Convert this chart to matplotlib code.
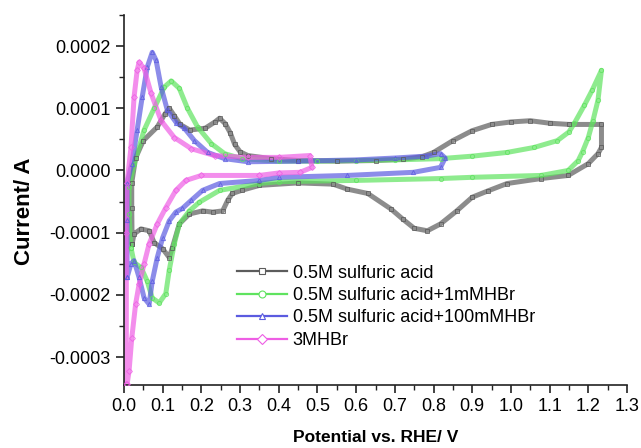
import matplotlib
matplotlib.use("Agg")
import matplotlib.pyplot as plt
from matplotlib.lines import Line2D
from matplotlib.ticker import MultipleLocator, FormatStrFormatter

plt.rcParams['font.family'] = ['Liberation Sans', 'DejaVu Sans']

labels = ["0.5M sulfuric acid", "0.5M sulfuric acid+1mMHBr",
          "0.5M sulfuric acid+100mMHBr", "3MHBr"]
colors = ["#5c5c5c", "#5fe35f", "#5b5be0", "#ee5ee4"]
markers = ["s", "o", "^", "D"]

# potential (V) and current (1e-4 A)
gray_x = [0.021, 0.02, 0.02, 0.03, 0.05, 0.086, 0.105, 0.117, 0.13, 0.145, 0.17, 0.21, 0.235, 0.247,
          0.262, 0.275, 0.286, 0.3, 0.32, 0.38, 0.45, 0.55, 0.65, 0.72, 0.77, 0.8, 0.85, 0.9,
          0.95, 1.0, 1.05, 1.1, 1.15, 1.234, 1.234, 1.225, 1.2, 1.148, 1.078, 0.99, 0.94,
          0.9, 0.86, 0.818, 0.784, 0.75, 0.72, 0.69, 0.63, 0.577, 0.54, 0.45, 0.35, 0.304,
          0.28, 0.268, 0.255, 0.229, 0.203, 0.169, 0.143, 0.125, 0.117, 0.1, 0.078, 0.065,
          0.044, 0.026, 0.021]
gray_y = [-1.18, -0.6, -0.2, 0.2, 0.48, 0.7, 0.9, 1.0, 0.88, 0.74, 0.65, 0.68, 0.78, 0.84,
          0.75, 0.6, 0.42, 0.3, 0.24, 0.19, 0.16, 0.15, 0.16, 0.18, 0.22, 0.29, 0.48, 0.64,
          0.74, 0.78, 0.8, 0.76, 0.74, 0.74, 0.37, 0.27, 0.11, -0.08, -0.13, -0.21, -0.33,
          -0.43, -0.65, -0.86, -0.97, -0.93, -0.78, -0.62, -0.37, -0.3, -0.22, -0.2, -0.24,
          -0.32, -0.37, -0.48, -0.65, -0.67, -0.65, -0.7, -0.86, -1.24, -1.4, -1.26, -1.16,
          -0.97, -0.94, -1.02, -1.18]

green_x = [0.018, 0.013, 0.013, 0.026, 0.052, 0.078, 0.104, 0.122, 0.143, 0.164, 0.19, 0.226,
           0.26, 0.304, 0.4, 0.5, 0.6, 0.7, 0.818, 0.9, 0.99, 1.06, 1.12, 1.15, 1.164, 1.19,
           1.21, 1.234, 1.225, 1.212, 1.2, 1.185, 1.174, 1.148, 1.078, 0.9, 0.818, 0.6, 0.4,
           0.35, 0.247, 0.195, 0.169, 0.143, 0.13, 0.117, 0.108, 0.091, 0.073, 0.06, 0.044,
           0.026, 0.018]
green_y = [-1.24, -0.7, -0.27, 0.1, 0.65, 1.0, 1.34, 1.44, 1.32, 1.0, 0.7, 0.43, 0.27, 0.19,
           0.15, 0.15, 0.16, 0.17, 0.19, 0.23, 0.29, 0.37, 0.48, 0.62, 0.76, 1.05, 1.29, 1.61,
           1.13, 0.8, 0.53, 0.3, 0.16, 0.0, -0.08, -0.11, -0.13, -0.16, -0.18, -0.21, -0.32,
           -0.51, -0.65, -0.86, -1.18, -1.6, -1.98, -2.13, -2.05, -1.78, -1.56, -1.48, -1.24]

blue_x = [0.008, 0.008, 0.008, 0.02, 0.034, 0.047, 0.06, 0.073, 0.083, 0.096, 0.112, 0.135,
          0.156, 0.182, 0.216, 0.26, 0.32, 0.45, 0.6, 0.7, 0.78, 0.818, 0.83, 0.818, 0.748,
          0.577, 0.4, 0.35, 0.247, 0.203, 0.174, 0.151, 0.134, 0.117, 0.1, 0.086, 0.073,
          0.065, 0.052, 0.039, 0.026, 0.018, 0.008]
blue_y = [-1.72, -0.8, -0.2, 0.1, 0.65, 1.18, 1.66, 1.9, 1.77, 1.34, 0.97, 0.77, 0.68, 0.48,
          0.29, 0.19, 0.14, 0.15, 0.17, 0.2, 0.23, 0.27, 0.2, 0.05, -0.03, -0.08, -0.11,
          -0.16, -0.21, -0.32, -0.48, -0.61, -0.67, -0.81, -1.08, -1.4, -1.78, -2.15, -2.05,
          -1.72, -1.45, -1.5, -1.72]

pink_x = [0.006, 0.006, 0.008, 0.018, 0.026, 0.034, 0.039, 0.052, 0.07, 0.096, 0.13, 0.174,
          0.234, 0.32, 0.4, 0.48, 0.486, 0.455, 0.4, 0.35, 0.2, 0.16, 0.134, 0.108, 0.086,
          0.065, 0.052, 0.039, 0.03, 0.02, 0.013, 0.008]
pink_y = [-3.44, -1.0, -0.2, 0.37, 1.18, 1.61, 1.74, 1.64, 1.24, 0.8, 0.53, 0.35, 0.24, 0.21,
          0.21, 0.24, 0.05, -0.03, -0.04, -0.08, -0.08, -0.16, -0.32, -0.6, -0.86, -1.18,
          -1.5, -1.83, -2.15, -2.7, -3.23, -3.44]

series_x = [gray_x, green_x, blue_x, pink_x]
series_y = [gray_y, green_y, blue_y, pink_y]

fig = plt.figure(figsize=(6.41, 4.48), dpi=100)
ax = fig.add_axes([124/641, 1-385/448, (627-124)/641, (385-15)/448])

for xs, ys, c, m in zip(series_x, series_y, colors, markers):
    yv = [v * 1e-4 for v in ys]
    ax.plot(xs, yv, color=c, lw=3.6, alpha=0.7, solid_capstyle='round',
            solid_joinstyle='round', zorder=2)
    ax.plot(xs, yv, ls='none', marker=m, ms=3.0, mfc='none', mec=c, mew=0.7,
            alpha=0.8, zorder=3)

ax.set_xlim(0, 1.3)
ax.set_ylim(-0.000345, 0.00025)
ax.spines['top'].set_visible(False)
ax.spines['right'].set_visible(False)
for s in ['left', 'bottom']:
    ax.spines[s].set_linewidth(1.2)
    ax.spines[s].set_color('#222222')

ax.xaxis.set_major_locator(MultipleLocator(0.1))
ax.xaxis.set_minor_locator(MultipleLocator(0.05))
ax.yaxis.set_major_locator(MultipleLocator(0.0001))
ax.yaxis.set_minor_locator(MultipleLocator(0.00005))
ax.xaxis.set_major_formatter(FormatStrFormatter('%.1f'))
ax.yaxis.set_major_formatter(FormatStrFormatter('%.4f'))
ax.tick_params(which='major', direction='out', length=6, width=1.2, labelsize=13, color='#222222')
ax.tick_params(which='minor', direction='out', length=3.5, width=1.0, color='#222222')

ax.set_xlabel('Potential vs. RHE/ V', fontsize=12.5, fontweight='bold')
ax.xaxis.set_label_coords(0.5, -(437 - 385) / 370, transform=ax.transAxes)
ax.xaxis.label.set_va('center')
ax.set_ylabel('Current/ A', fontsize=16, fontweight='bold')
ax.yaxis.set_label_coords(-(124 - 25) / 503, (385 - 211) / 370, transform=ax.transAxes)
ax.yaxis.label.set_va('center')

handles = [Line2D([0], [0], color=c, lw=1.6, marker=m, ms=5, mfc='white', mec=c, mew=0.8)
           for c, m in zip(colors, markers)]
ax.legend(handles, labels, loc='upper left', bbox_to_anchor=(0.21, 0.345), frameon=False,
          fontsize=13, handlelength=2.8, labelspacing=0.3, handletextpad=0.3,
          borderaxespad=0, numpoints=1)

fig.savefig('out.png', dpi=100)
